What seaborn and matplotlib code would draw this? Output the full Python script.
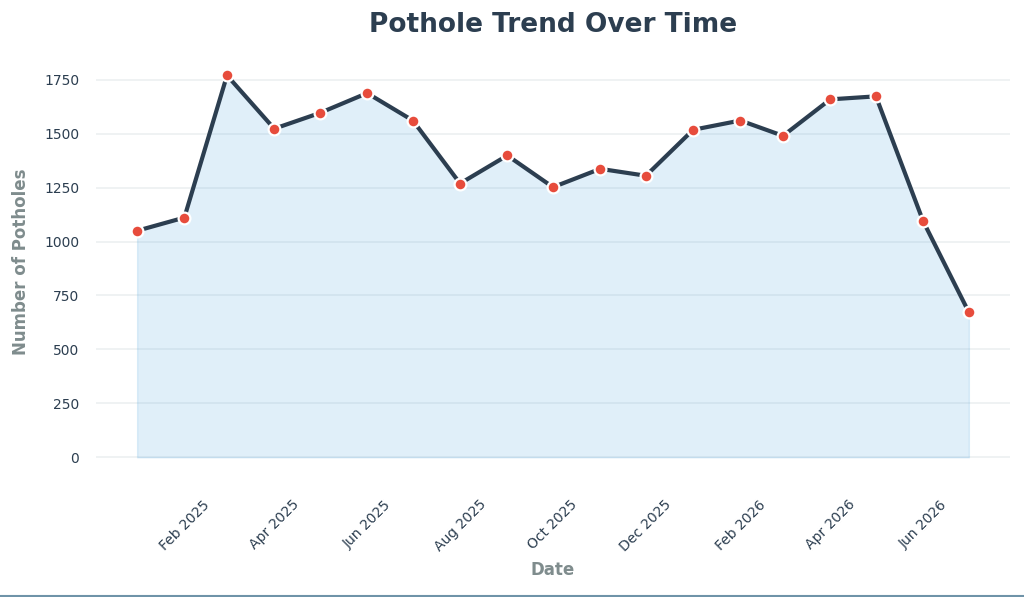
import pandas as pd
import numpy as np
import matplotlib
matplotlib.use("Agg")
from matplotlib import pyplot as plt
import matplotlib.dates as mdates
from matplotlib.lines import Line2D
import seaborn as sns

# monthly pothole counts
months = pd.date_range("2025-01-01", "2026-07-01", freq="MS")
potholes = [1050, 1111, 1770, 1523, 1596, 1688, 1561, 1269, 1399, 1252,
            1337, 1305, 1518, 1561, 1490, 1659, 1673, 1094, 672]
y_ticks = [0, 250, 500, 750, 1000, 1250, 1500, 1750]

df = pd.DataFrame({"Date": months, "Potholes": potholes})

sns.set_theme(style="whitegrid")
plt.rcParams["font.family"] = ["DejaVu Sans"]

fig = plt.figure(figsize=(10.24, 5.97), dpi=100)
ax = fig.add_axes([96 / 1024, 1 - 467 / 597, (1010 - 96) / 1024, (467 - 56) / 597])

# area under the line
ax.fill_between(df["Date"], df["Potholes"], 0, color="#3498db", alpha=0.15,
                edgecolor="#3498db", linewidth=1, zorder=1)

sns.lineplot(data=df, x="Date", y="Potholes", ax=ax, color="#2c3e50",
             linewidth=3, marker="o", markersize=8.5,
             markerfacecolor="#e74c3c", markeredgecolor="white",
             markeredgewidth=1.6, zorder=3)

ax.set_xlim(pd.Timestamp("2024-12-05"), pd.Timestamp("2026-07-28"))
ax.set_ylim(-45, 1860)
ax.set_yticks(y_ticks)

ax.xaxis.set_major_locator(mdates.MonthLocator(bymonth=[2, 4, 6, 8, 10, 12]))
ax.xaxis.set_major_formatter(mdates.DateFormatter("%b %Y"))
plt.setp(ax.get_xticklabels(), rotation=45, ha="center")

ax.tick_params(axis="both", labelsize=10, colors="#2c3e50", length=0)
ax.tick_params(axis="x", pad=22)
ax.tick_params(axis="y", pad=12)

ax.grid(axis="y", color="#ecf0f1", linewidth=1.2)
ax.grid(axis="x", visible=False)
for s in ax.spines.values():
    s.set_visible(False)

ax.set_title("Pothole Trend Over Time", fontsize=19, fontweight="bold",
             color="#2c3e50", pad=17)
ax.set_xlabel("Date", fontsize=12, fontweight="bold", color="#7f8c8d", labelpad=5)
ax.set_ylabel("Number of Potholes", fontsize=12, fontweight="bold",
              color="#7f8c8d", labelpad=10)

# thin border line at the bottom of the figure
fig.add_artist(Line2D([0, 1], [0.002, 0.002], transform=fig.transFigure,
                      color="#6f93a8", linewidth=1.5))

fig.savefig("out.png", dpi=100)
